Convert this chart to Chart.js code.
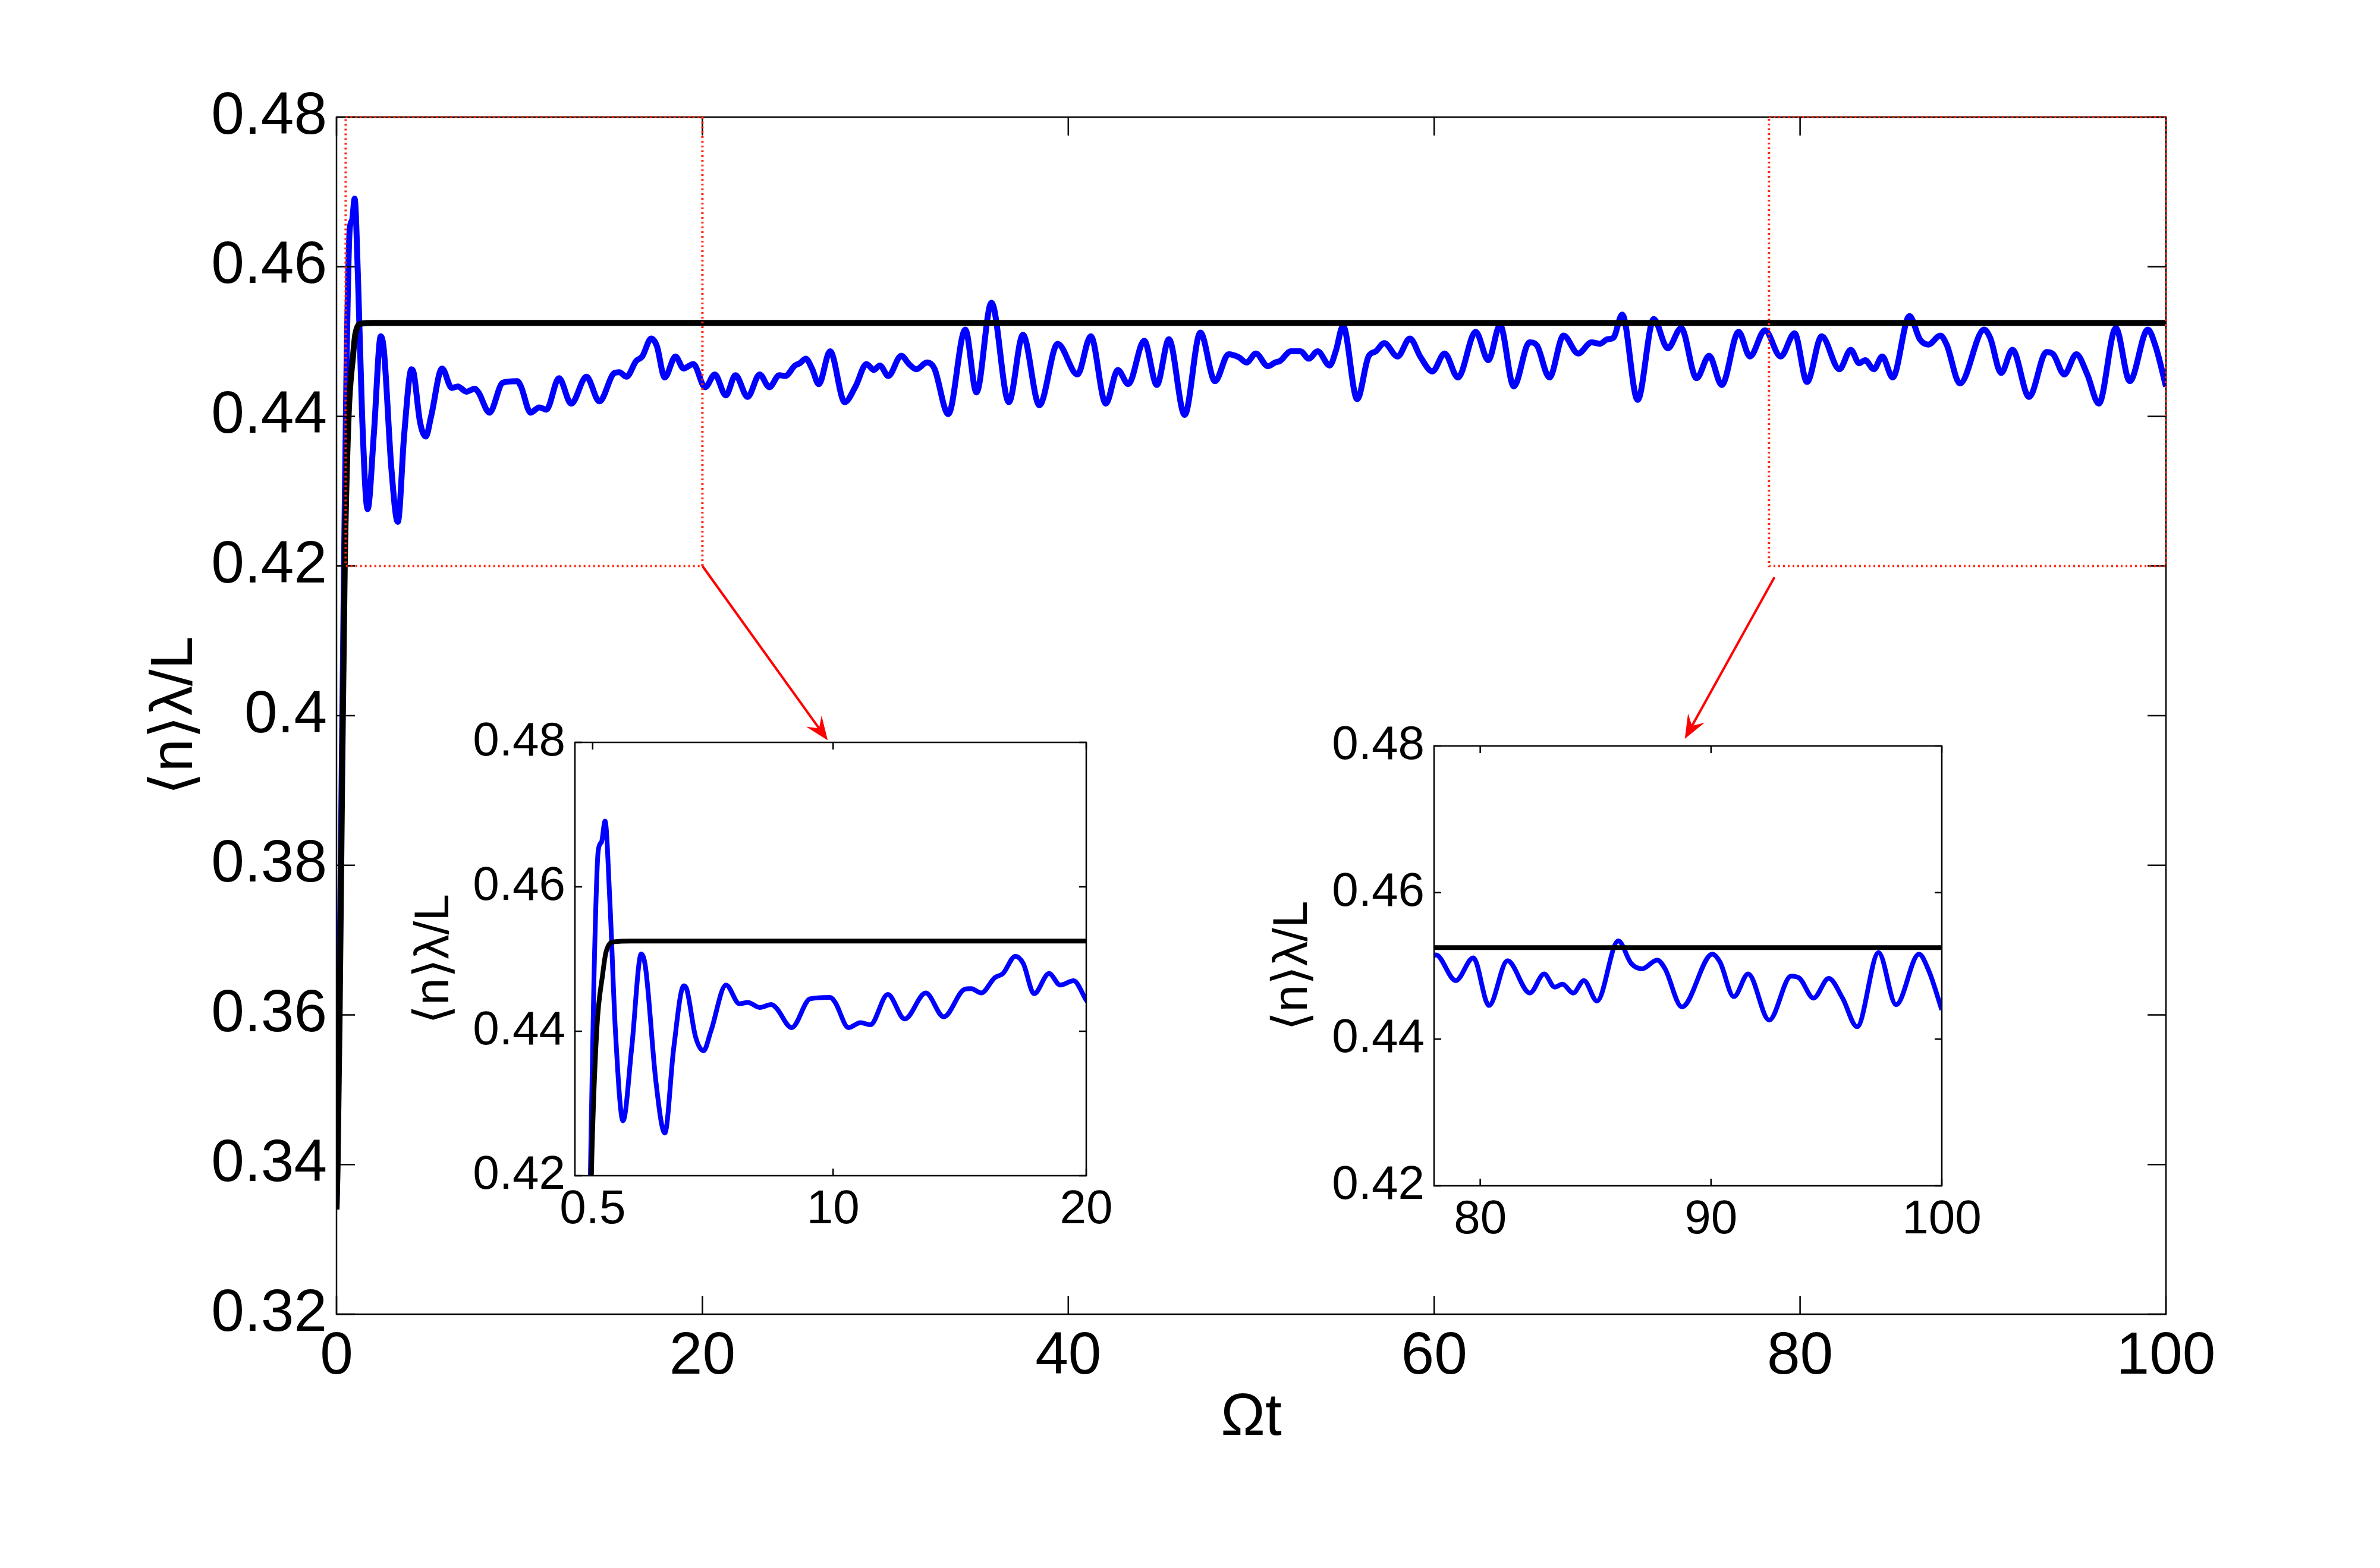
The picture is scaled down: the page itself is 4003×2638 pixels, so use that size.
<!DOCTYPE html>
<html>
<head>
<meta charset="utf-8">
<script src="https://cdn.jsdelivr.net/npm/chart.js@4.4.1/dist/chart.umd.min.js"></script>
<style>
  html, body { margin: 0; padding: 0; background: #fff; overflow: hidden; }
  canvas { position: absolute; }
</style>
</head>
<body>
<canvas id="main" width="4003" height="2638" style="left:0;top:0"></canvas>
<canvas id="zoomA" width="1300" height="950" style="left:640px;top:1150px"></canvas>
<canvas id="zoomB" width="1300" height="950" style="left:2090px;top:1150px"></canvas>
<script>
// time axis (Omega t) and values
const tBlue = [0, 0.1, 0.2, 0.3, 0.41, 0.55, 0.72, 0.85, 0.99, 1.18, 1.4, 1.7, 2.04, 2.42, 2.59, 3.0, 3.35, 3.7, 4.1, 4.22,
  4.56, 4.88, 5.17, 5.77, 6.3, 6.63, 7.1, 7.56, 7.76, 8.36, 9.09, 9.88, 10.08, 10.61, 11.08, 11.47, 12.16, 12.83, 13.66, 14.37,
  15.19, 15.45, 15.85, 16.38, 16.71, 17.2, 17.51, 17.94, 18.53, 18.97, 19.5, 20.15, 20.68, 21.28, 21.81, 22.47, 23.13, 23.66, 24.2, 24.53,
  25.06, 25.32, 25.65, 25.99, 26.36, 26.98, 27.78, 28.37, 28.97, 29.37, 29.7, 30.16, 30.87, 31.29, 31.69, 32.28, 32.68, 33.44, 34.37, 34.98,
  35.8, 36.75, 37.52, 38.42, 39.42, 40.5, 41.23, 42.05, 42.71, 43.28, 44.15, 44.84, 45.5, 46.36, 47.22, 48.02, 48.76, 49.32, 49.74, 50.25,
  50.91, 51.31, 51.57, 52.17, 52.7, 53.14, 53.63, 54.29, 54.62, 55.02, 55.79, 56.41, 56.81, 57.27, 58.0, 58.67, 59.26, 59.9, 60.57, 61.3,
  62.27, 62.96, 63.6, 64.35, 65.21, 65.61, 66.3, 67.07, 67.87, 68.6, 69.06, 69.46, 69.79, 70.28, 71.12, 72.0, 72.77, 73.5, 74.34, 75.03,
  75.72, 76.64, 77.26, 78.08, 78.94, 79.7, 80.38, 81.18, 82.15, 82.77, 83.23, 83.56, 84.03, 84.49, 85.06, 85.98, 86.55, 87.01, 87.67, 88.01,
  88.74, 90.06, 90.39, 90.99, 91.61, 92.52, 93.47, 93.84, 94.44, 95.1, 95.7, 96.33, 97.26, 98.02, 99.01, 99.44, 100];
const nBlue = [0.334, 0.352, 0.373, 0.396, 0.42, 0.447, 0.465, 0.4662, 0.4691, 0.458, 0.44, 0.4276, 0.4376, 0.4507, 0.4488, 0.433, 0.4259, 0.4376, 0.4463, 0.4458,
  0.4393, 0.4373, 0.44, 0.4464, 0.4438, 0.444, 0.4433, 0.4437, 0.4432, 0.4405, 0.4445, 0.4447, 0.444, 0.4405, 0.4412, 0.4409, 0.4451, 0.4417, 0.4453, 0.442,
  0.4458, 0.4459, 0.4453, 0.4474, 0.448, 0.4504, 0.4494, 0.4452, 0.448, 0.4464, 0.447, 0.4439, 0.4456, 0.4428, 0.4455, 0.4426, 0.4456, 0.4439, 0.4455, 0.4454,
  0.4468, 0.4471, 0.4477, 0.4464, 0.4443, 0.4487, 0.4419, 0.444, 0.447, 0.4462, 0.4468, 0.4454, 0.4481, 0.447, 0.4463, 0.4472, 0.4464, 0.4403, 0.4516, 0.4432,
  0.4552, 0.4419, 0.4509, 0.4415, 0.4497, 0.4456, 0.4507, 0.4417, 0.4462, 0.4443, 0.4501, 0.4442, 0.4503, 0.4402, 0.4512, 0.4447, 0.4483, 0.4479, 0.4472, 0.4484,
  0.4467, 0.4472, 0.4474, 0.4487, 0.4487, 0.4477, 0.4487, 0.4468, 0.4487, 0.4521, 0.4423, 0.448, 0.4487, 0.4498, 0.448, 0.4504, 0.4479, 0.446, 0.4484, 0.4452,
  0.4513, 0.4475, 0.4522, 0.444, 0.4499, 0.4495, 0.4452, 0.4508, 0.4484, 0.4499, 0.4497, 0.4503, 0.4505, 0.4536, 0.4422, 0.453, 0.4491, 0.4518, 0.4451, 0.4481,
  0.4442, 0.4513, 0.448, 0.4515, 0.448, 0.4511, 0.4446, 0.4507, 0.4463, 0.4489, 0.4471, 0.4475, 0.4463, 0.448, 0.4452, 0.4534, 0.4503, 0.4496, 0.4508, 0.4496,
  0.4444, 0.4516, 0.4505, 0.4458, 0.4489, 0.4426, 0.4486, 0.4483, 0.4456, 0.4483, 0.4456, 0.4417, 0.4518, 0.4447, 0.4516, 0.4493, 0.444];
const tBlack = [0, 0.06, 0.17, 0.3, 0.45, 0.66, 0.9, 1.03, 1.36, 2, 100];
const nBlack = [0.334, 0.34, 0.36, 0.39, 0.42, 0.44, 0.448, 0.451, 0.4524, 0.4525, 0.4525];

const mainXTicks = [0, 20, 40, 60, 80, 100];
const mainYTicks = [0.32, 0.34, 0.36, 0.38, 0.4, 0.42, 0.44, 0.46, 0.48];
const zoomYTicks = [0.42, 0.44, 0.46, 0.48];
const zoomAXTicks = [0.5, 10, 20];
const zoomBXTicks = [80, 90, 100];

// zoomed windows [tMin, tMax, nMin, nMax] and arrows [from t, from n, to t, to n]
const zoomBoxes = [[0.5, 20, 0.42, 0.48], [78.3, 100, 0.42, 0.48]];
const arrows = [[20, 0.42, 26.85, 0.3967], [78.6, 0.4185, 73.7, 0.3969]];

const yLabel = '\u27E8n\u27E9\u03BB/L';
const xLabel = '\u03A9t';

Chart.defaults.font.family = '"Liberation Sans", Arial, sans-serif';
Chart.defaults.color = '#000';

const pairs = (xs, ys) => xs.map((x, i) => ({x: x, y: ys[i]}));
const fmt = v => String(+v.toFixed(2));

// MATLAB style box with inward ticks on all four sides
const framePlugin = {
  id: 'frame',
  afterDatasetsDraw(chart, args, o) {
    const {ctx, chartArea: a} = chart;
    const x = chart.scales.x, y = chart.scales.y;
    ctx.save();
    ctx.strokeStyle = '#000';
    ctx.lineWidth = o.width;
    ctx.beginPath();
    x.ticks.forEach(t => {
      const p = x.getPixelForValue(t.value);
      ctx.moveTo(p, a.bottom); ctx.lineTo(p, a.bottom - o.len);
      ctx.moveTo(p, a.top); ctx.lineTo(p, a.top + o.len);
    });
    y.ticks.forEach(t => {
      const p = y.getPixelForValue(t.value);
      ctx.moveTo(a.left, p); ctx.lineTo(a.left + o.len, p);
      ctx.moveTo(a.right, p); ctx.lineTo(a.right - o.len, p);
    });
    ctx.stroke();
    ctx.strokeRect(a.left, a.top, a.right - a.left, a.bottom - a.top);
    ctx.restore();
  }
};

const zoomMarks = {
  id: 'zoomMarks',
  afterDraw(chart) {
    const {ctx} = chart;
    const x = chart.scales.x, y = chart.scales.y;
    ctx.save();
    ctx.strokeStyle = '#ff2a14';
    ctx.lineWidth = 4;
    ctx.setLineDash([3, 5]);
    zoomBoxes.forEach(b => {
      const l = x.getPixelForValue(b[0]), r = x.getPixelForValue(b[1]);
      const bt = y.getPixelForValue(b[2]), tp = y.getPixelForValue(b[3]);
      ctx.strokeRect(l, tp, r - l, bt - tp);
    });
    ctx.setLineDash([]);
    ctx.strokeStyle = '#ff0000';
    ctx.fillStyle = '#ff0000';
    ctx.lineWidth = 4;
    arrows.forEach(ar => {
      const x0 = x.getPixelForValue(ar[0]), y0 = y.getPixelForValue(ar[1]);
      const x1 = x.getPixelForValue(ar[2]), y1 = y.getPixelForValue(ar[3]);
      const ang = Math.atan2(y1 - y0, x1 - x0);
      const len = 40, half = 16;
      ctx.beginPath();
      ctx.moveTo(x0, y0);
      ctx.lineTo(x1 - Math.cos(ang) * len * 0.6, y1 - Math.sin(ang) * len * 0.6);
      ctx.stroke();
      ctx.save();
      ctx.translate(x1, y1);
      ctx.rotate(ang);
      ctx.beginPath();
      ctx.moveTo(0, 0);
      ctx.lineTo(-len, -half);
      ctx.lineTo(-len * 0.62, 0);
      ctx.lineTo(-len, half);
      ctx.closePath();
      ctx.fill();
      ctx.restore();
    });
    ctx.restore();
  }
};

function makeChart(id, cfg) {
  const tickFont = {size: cfg.font};
  return new Chart(document.getElementById(id), {
    type: 'line',
    data: {
      datasets: [
        {data: pairs(tBlack, nBlack), borderColor: '#000000', borderWidth: cfg.lw, pointRadius: 0,
         cubicInterpolationMode: 'monotone', fill: false},
        {data: pairs(tBlue, nBlue), borderColor: '#0000ff', borderWidth: cfg.lw, pointRadius: 0,
         cubicInterpolationMode: 'monotone', fill: false}
      ]
    },
    options: {
      responsive: false,
      devicePixelRatio: 1,
      animation: false,
      events: [],
      layout: {padding: cfg.padding},
      plugins: {
        legend: {display: false},
        tooltip: {enabled: false},
        frame: {width: cfg.frameW, len: cfg.tickLen}
      },
      scales: {
        x: {
          type: 'linear', min: cfg.xMin, max: cfg.xMax,
          grid: {display: false, drawTicks: false},
          border: {display: false},
          ticks: {font: tickFont, padding: cfg.xPad, maxRotation: 0, callback: fmt},
          afterBuildTicks: s => { s.ticks = cfg.xTicks.map(v => ({value: v})); },
          afterFit: s => { s.height = cfg.xHeight; },
          title: cfg.xTitle ? {display: true, text: xLabel, font: {size: cfg.titleSize},
            padding: {top: 0, bottom: cfg.xTitlePad}} : {display: false}
        },
        y: {
          type: 'linear', min: cfg.yMin, max: cfg.yMax,
          grid: {display: false, drawTicks: false},
          border: {display: false},
          ticks: {font: tickFont, padding: cfg.yPad, callback: fmt},
          afterBuildTicks: s => { s.ticks = cfg.yTicks.map(v => ({value: v})); },
          afterFit: s => { s.width = cfg.yWidth; },
          title: {display: true, text: yLabel, font: {size: cfg.titleSize},
            padding: {top: cfg.yTitlePad, bottom: 0}}
        }
      }
    },
    plugins: cfg.extra ? [framePlugin, zoomMarks] : [framePlugin]
  });
}

makeChart('main', {
  font: 100, titleSize: 100, lw: 10, frameW: 2.5, tickLen: 31,
  padding: {left: 0, top: 197, right: 360, bottom: 0},
  xMin: 0, xMax: 100, xTicks: mainXTicks, xHeight: 427, xPad: 12, xTitle: true, xTitlePad: 192,
  yMin: 0.32, yMax: 0.48, yTicks: mainYTicks, yWidth: 566, yPad: 16, yTitlePad: 235,
  extra: true
});

makeChart('zoomA', {
  font: 80, titleSize: 82, lw: 8, frameW: 2.5, tickLen: 12,
  padding: {left: 0, top: 99, right: 113, bottom: 0},
  xMin: -0.2, xMax: 20, xTicks: zoomAXTicks, xHeight: 122, xPad: 10, xTitle: false,
  yMin: 0.42, yMax: 0.48, yTicks: zoomYTicks, yWidth: 327, yPad: 16, yTitlePad: 42
});

makeChart('zoomB', {
  font: 80, titleSize: 82, lw: 8, frameW: 2.5, tickLen: 12,
  padding: {left: 0, top: 105, right: 124, bottom: 0},
  xMin: 78, xMax: 100, xTicks: zoomBXTicks, xHeight: 105, xPad: 10, xTitle: false,
  yMin: 0.42, yMax: 0.48, yTicks: zoomYTicks, yWidth: 322, yPad: 16, yTitlePad: 36
});
</script>
</body>
</html>
